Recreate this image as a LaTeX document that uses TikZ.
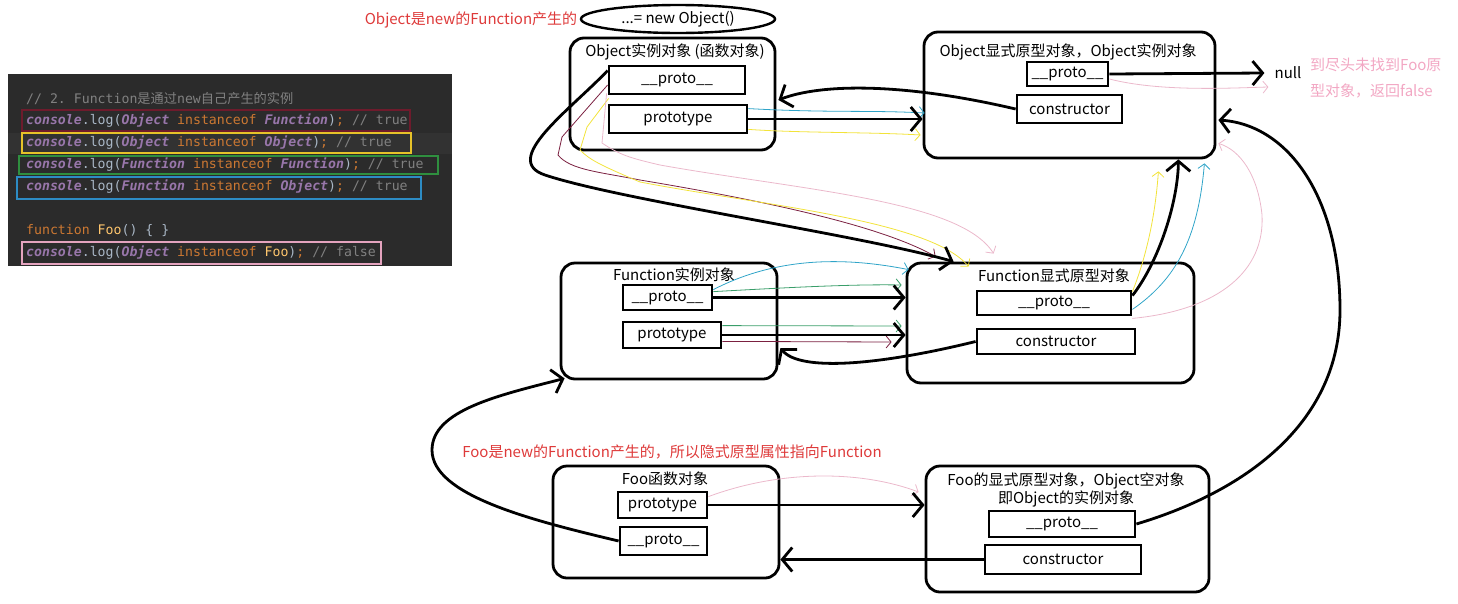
\documentclass[tikz,border=0pt]{standalone}
\usepackage{fontspec}
\setmainfont{Noto Sans CJK SC}
\setmonofont{DejaVu Sans Mono}
\newfontfamily\cjk{Noto Sans CJK SC}
\usepackage{tikz}
\usetikzlibrary{arrows.meta, shapes.geometric, calc}

\definecolor{codebg}{HTML}{2B2B2B}
\definecolor{codehl}{HTML}{323232}
\definecolor{codegrey}{HTML}{808080}
\definecolor{codepurple}{HTML}{9876AA}
\definecolor{codeorange}{HTML}{CC7832}
\definecolor{codefg}{HTML}{A9B7C6}
\definecolor{codeyellow}{HTML}{FFC66D}
\definecolor{boxmaroon}{HTML}{6E1B2C}
\definecolor{boxyellow}{HTML}{E6C229}
\definecolor{boxgreen}{HTML}{2F8F3F}
\definecolor{boxblue}{HTML}{2D8CC4}
\definecolor{boxpink}{HTML}{E4A3BE}
\definecolor{notered}{HTML}{DE3A3A}
\definecolor{notepink}{HTML}{F2A7C3}
\definecolor{hintcyan}{HTML}{2FA4C8}
\definecolor{hintyellow}{HTML}{F2E33A}
\definecolor{hintgreen}{HTML}{3A9E6A}
\definecolor{hintmaroon}{HTML}{7B2040}
\definecolor{hintpink}{HTML}{EBB8CB}

\newcommand{\jsid}[1]{\textcolor{codepurple}{\bfseries\itshape #1}}
\newcommand{\jsop}[1]{\textcolor{codeorange}{#1}}
\newcommand{\jsfg}[1]{\textcolor{codefg}{#1}}
\newcommand{\jscm}[1]{\textcolor{codegrey}{#1}}
\newcommand{\jslog}{\jsid{console}\jsfg{.log(}}

\begin{document}
\begin{tikzpicture}[
      x=1pt, y=-1pt,
      font=\fontsize{15pt}{17pt}\selectfont,
      container/.style={
         draw,
         line width=2.8pt,
         rounded corners=14pt,
         inner sep=0pt
      },
      field/.style={
         draw,
         line width=2.8pt,
         inner sep=0pt
      },
      link/.style={
         line width=2.8pt,
         -{Straight Barb[length=10pt,width=24pt]}
      },
      hint/.style={
         line width=0.8pt,
         -{Straight Barb[length=5pt,width=12pt]}
      },
      codeline/.style={
         anchor=west,
         inner sep=0pt,
         font=\ttfamily\fontsize{13.2pt}{16pt}\selectfont
      },
      note/.style={text=notered, inner sep=0pt}
   ]
   \useasboundingbox (0,0) rectangle (1458,603);

   % code panel
   \fill[codebg] (8,74) rectangle (452,266);
   \fill[codehl] (8,133) rectangle (452,154);
   \node[codeline] (c0) at (26,99) {\jscm{// 2. Function{\cjk 是通过}new{\cjk 自己产生的实例}}};
   \node[codeline] (c1) at (26,121) {\jslog\jsid{Object} \jsop{instanceof} \jsid{Function}\jsfg{)}\jsop{;} \jscm{// true}};
   \node[codeline] (c2) at (26,143) {\jslog\jsid{Object} \jsop{instanceof} \jsid{Object}\jsfg{)}\jsop{;} \jscm{// true}};
   \node[codeline] (c3) at (26,165) {\jslog\jsid{Function} \jsop{instanceof} \jsid{Function}\jsfg{)}\jsop{;} \jscm{// true}};
   \node[codeline] (c4) at (26,187) {\jslog\jsid{Function} \jsop{instanceof} \jsid{Object}\jsfg{)}\jsop{;} \jscm{// true}};
   \node[codeline] (c5) at (26,231) {\jsop{function} \textcolor{codeyellow}{Foo}\jsfg{() \{ \}}};
   \node[codeline] (c6) at (26,253) {\jslog\jsid{Object} \jsop{instanceof} \textcolor{codeyellow}{Foo}\jsfg{)}\jsop{;} \jscm{// false}};
   \draw[boxmaroon, line width=1.2pt] (22,110) rectangle (410,131);
   \draw[boxyellow, line width=1.2pt] (22,133) rectangle (411,153);
   \draw[boxgreen, line width=1.2pt] (19,156) rectangle (438,174);
   \draw[boxblue, line width=1.2pt] (17,177) rectangle (421,199);
   \draw[boxpink, line width=1.2pt] (22,242) rectangle (381,264);

   % notes
   \node[note] (n-obj) at (471,20) {Object是new的Function产生的};
   \node[ellipse, draw, line width=2.4pt, minimum width=194pt, minimum height=28pt, inner sep=0pt] (newobj) at (678,19) {...= new Object()};
   \node[note] (n-foo) at (672,452) {Foo是new的Function产生的，所以隐式原型属性指向Function};
   \node[text=notepink, anchor=west, inner sep=0pt] (n-end1) at (1310,65) {到尽头未找到Foo原};
   \node[text=notepink, anchor=west, inner sep=0pt] (n-end2) at (1310,91) {型对象，返回false};
   \node[inner sep=0pt] (null) at (1288,73) {null};

   % Object function object
   \node[container, minimum width=205pt, minimum height=112pt] (o) at (672.5,94) {};
   \node (o-title) at (675,52) {Object实例对象 (函数对象)};
   \node[field, minimum width=136pt, minimum height=28pt] (o-proto) at (677,80) {\_\_proto\_\_};
   \node[field, minimum width=138pt, minimum height=28pt] (o-ptype) at (678,119) {prototype};

   % Object prototype
   \node[container, minimum width=291pt, minimum height=126pt] (op) at (1069.5,95) {};
   \node (op-title) at (1068,52) {Object显式原型对象，Object实例对象};
   \node[field, minimum width=81pt, minimum height=24pt] (op-proto) at (1067.5,74) {\_\_proto\_\_};
   \node[field, minimum width=105pt, minimum height=28pt] (op-ctor) at (1069.5,109) {constructor};

   % Function function object
   \node[container, minimum width=216pt, minimum height=116pt] (f) at (669,321) {};
   \node (f-title) at (674,275) {Function实例对象};
   \node[field, minimum width=89pt, minimum height=25pt] (f-proto) at (667.5,297.5) {\_\_proto\_\_};
   \node[field, minimum width=98pt, minimum height=26pt] (f-ptype) at (672,335) {prototype};

   % Function prototype
   \node[container, minimum width=287pt, minimum height=120pt] (fp) at (1050.5,323) {};
   \node (fp-title) at (1054,276) {Function显式原型对象};
   \node[field, minimum width=154pt, minimum height=24pt] (fp-proto) at (1054,303) {\_\_proto\_\_};
   \node[field, minimum width=158pt, minimum height=25pt] (fp-ctor) at (1056,341.5) {constructor};

   % Foo function object
   \node[container, minimum width=226pt, minimum height=112pt] (foo) at (666,522) {};
   \node (foo-title) at (665,479) {Foo函数对象};
   \node[field, minimum width=89pt, minimum height=26pt] (foo-ptype) at (662.5,505) {prototype};
   \node[field, minimum width=87pt, minimum height=28pt] (foo-proto) at (663.5,541) {\_\_proto\_\_};

   % Foo prototype
   \node[container, minimum width=283pt, minimum height=126pt] (foop) at (1067.5,529) {};
   \node[align=center, font=\fontsize{15pt}{16pt}\selectfont] (foop-title) at (1066,490) {Foo的显式原型对象，Object空对象\\即Object的实例对象};
   \node[field, minimum width=146pt, minimum height=26pt] (foop-proto) at (1062,524) {\_\_proto\_\_};
   \node[field, minimum width=156pt, minimum height=29pt] (foop-ctor) at (1063,559.5) {constructor};

   % coloured hints
   \draw[hint, hintcyan] ($(o-ptype.north east)+(0,5)$) .. controls (830,113) and (870,110) .. ($(op.west)+(2,18)$);
   \draw[hint, hintyellow] ($(o-ptype.south east)+(0,-5)$) .. controls (800,133) and (870,132) .. ($(op.west)+(-2,40)$);
   \draw[hint, hintmaroon] ($(o-proto.west)+(0,5)$) -- (562,137) -- (558,155) .. controls (570,170) and (600,172) .. (640,180) .. controls (760,200) and (880,225) .. ($(fp.north west)+(30,-5)$);
   \draw[hint, hintyellow] ($(o-proto.south west)+(1,3)$) -- (587,127) -- (580,150) .. controls (590,160) and (600,165) .. (640,182) .. controls (760,205) and (930,220) .. ($(fp.north west)+(63,5)$);
   \draw[hint, hintpink] ($(o-proto.south west)+(-1,-2)$) -- (602,143) .. controls (620,155) and (630,158) .. (660,165) .. controls (800,190) and (960,200) .. ($(fp.north west)+(88,-8)$);
   \draw[hint, hintpink] ($(op-proto.east)+(0,5)$) .. controls (1160,92) and (1230,88) .. ($(null.west)+(-6,14)$);
   \draw[hint, hintcyan] ($(f-proto.north east)+(0,6)$) .. controls (780,255) and (850,258) .. ($(fp.north west)+(3,8)$);
   \draw[hint, hintgreen] ($(f-proto.north east)+(0,8)$) .. controls (780,288) and (850,284) .. ($(fp.west)+(-4,-38)$);
   \draw[hint, hintgreen] ($(f-ptype.north east)+(0,5)$) -- ($(fp.west)+(-4,3)$);
   \draw[hint, hintmaroon] ($(f-ptype.south east)+(0,-8)$) -- ($(fp.west)+(-14,19)$);
   \draw[hint, hintyellow] ($(fp-proto.north east)+(0,2)$) .. controls (1145,260) and (1155,220) .. ($(op.south east)+(-58,12)$);
   \draw[hint, hintcyan] ($(fp-proto.south east)+(0,-7)$) .. controls (1175,280) and (1198,240) .. ($(op.south east)+(-12,4)$);
   \draw[hint, hintpink] ($(fp-proto.south east)+(0,2)$) .. controls (1220,310) and (1265,270) .. (1262,215) .. controls (1258,175) and (1240,150) .. ($(op.south east)+(2,-16)$);
   \draw[hint, hintpink] ($(foo-ptype.north east)+(0,6)$) .. controls (780,470) and (860,470) .. ($(foop.west)+(-6,-37)$);

   % black links
   \draw[link] (o-ptype.east) -- (o-ptype.east -| op.west);
   \draw[link] (op-ctor.west) .. controls (900,82) and (820,84) .. ($(o.east)+(2,6)$);
   \draw[link] (op-proto.east) -- ($(null.west)+(-10,0)$);
   \draw[link] ($(o-proto.north west)+(0,6)$) .. controls (570,110) and (500,160) .. (545,175) .. controls (620,200) and (860,235) .. ($(fp.north west)+(48,0)$);
   \draw[link] (f-proto.east) -- (f-proto.east -| fp.west);
   \draw[link] (f-ptype.east) -- (f-ptype.east -| fp.west);
   \draw[link] (fp-ctor.west) .. controls (880,365) and (800,372) .. ($(f.east)+(2,27)$);
   \draw[link] ($(fp-proto.north east)+(0,6)$) .. controls (1160,260) and (1178,200) .. ($(op.south east)+(-38,0)$);
   \draw[link] (foop-proto.east) .. controls (1250,490) and (1340,420) .. (1340,310) .. controls (1340,200) and (1290,125) .. ($(op.east)+(2,25)$);
   \draw[link] (foo-ptype.east) -- (foo-ptype.east -| foop.west);
   \draw[link] (foop-ctor.west) -- (foop-ctor.west -| foo.east);
   \draw[link] (foo-proto.west) .. controls (530,520) and (432,495) .. (432,450) .. controls (432,410) and (500,395) .. ($(f.south west)+(5,-2)$);
\end{tikzpicture}
\end{document}
